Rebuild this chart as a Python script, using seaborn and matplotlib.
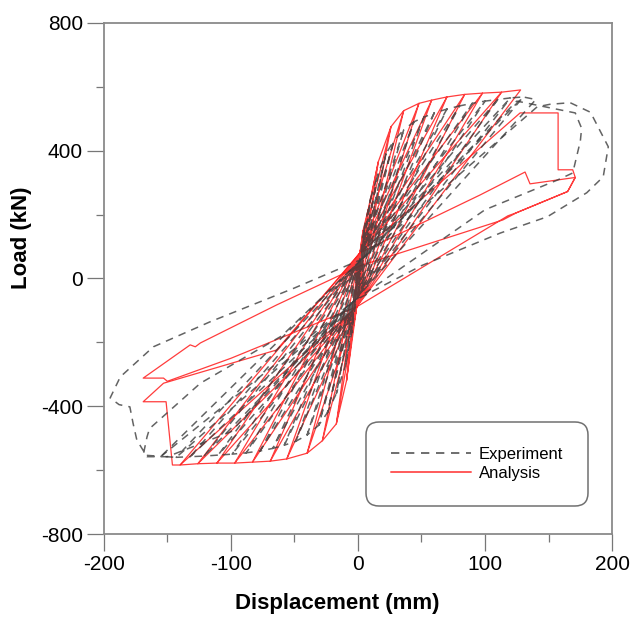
import pandas as pd
import matplotlib
matplotlib.use('Agg')
import matplotlib.pyplot as plt
from matplotlib.lines import Line2D
from matplotlib.ticker import MultipleLocator
import seaborn as sns

# --- analysis (red): peaks of every cycle ---
ana_pos_disp = [4, 8, 16, 26, 36, 48, 58, 70, 84, 98, 113, 128]
ana_pos_load = [150, 215, 365, 475, 525, 548, 558, 568, 576, 580, 583, 590]
ana_neg_disp = [-4, -9, -17, -28, -40, -56, -69, -83, -97, -111, -126, -140]
ana_neg_load = [-160, -320, -455, -508, -547, -565, -572, -575, -578, -578, -580, -584]
ana_pinch_disp = [1.6, -1.0]
ana_pinch_load = [80, -89]

# last (damaged) cycles of the analysis, traced point by point
ana_tail_disp = [1.6, 127.6, 157.5, 157.5, 169, 171, 165, 125, 118, 113, -1,
                 -140, -146, -151, -169, -153, -64, 1.6, 96, 131.5, 135.4, 171, 165, 125, 114, 2]
ana_tail_load = [80, 518, 518, 340, 340, 316, 272, 206, 196, 184, -89,
                 -584, -584, -386, -386, -328, -224, 80, 261, 333, 296, 316, 272, 206, 183, 40]
ana_tail2_disp = [2, -64, -124, -128, -132, -169, -153, -150, -100, -1]
ana_tail2_load = [40, -83, -202, -214, -208, -312, -312, -322, -250, -89]

# --- experiment (black dashed) ---
exp_pos_disp = [5, 10, 16, 22, 28, 36, 44, 52, 60, 70, 80, 90, 100, 110, 120, 130, 140]
exp_pos_load = [160, 250, 330, 390, 430, 465, 490, 505, 518, 530, 540, 548, 555, 560, 565, 568, 560]
exp_neg_disp = [-5, -10, -17, -24, -31, -40, -49, -58, -67, -77, -88, -99, -110, -121, -132, -143, -155]
exp_neg_load = [-170, -275, -360, -420, -460, -490, -510, -522, -532, -540, -546, -550, -553, -556, -558, -560, -557]
exp_pinch_disp = [3, -3]
exp_pinch_load = [60, -70]

exp_tail_disp = [3, 125, 171, 176, 175, 169, 157, 100, -3,
                 -155, -169, -166, -164, -124, -60, 3,
                 141, 151, 167, 183, 197, 193, 180, 149, 112, 50, -3,
                 -100, -150, -166, -174, -177, -179.5, -188, -195, -187, -161, -116.5, -50, 3]
exp_tail_load = [60, 555, 518, 470, 430, 330, 308, 215, -70,
                 -557, -553, -496, -470, -328, -180, 60,
                 537, 545, 550, 520, 412, 318, 268, 193, 142, 40, -70,
                 -480, -558, -558, -506, -453, -402, -395, -374, -308, -214, -136, -30, 60]


def build_cycles(pos_d, pos_f, neg_d, neg_f, pinch_d, pinch_f):
    # reload from pinch to previous peak, go on to new peak, unload to the other pinch
    d, f = [0.0], [0.0]
    for i in range(len(pos_d)):
        d.append(pinch_d[0]); f.append(pinch_f[0])
        if i > 0:
            d.append(pos_d[i - 1]); f.append(pos_f[i - 1])
        d.append(pos_d[i]); f.append(pos_f[i])
        d.append(pinch_d[1]); f.append(pinch_f[1])
        if i > 0:
            d.append(neg_d[i - 1]); f.append(neg_f[i - 1])
        d.append(neg_d[i]); f.append(neg_f[i])
    d.append(pinch_d[0]); f.append(pinch_f[0])
    return d, f


def to_frame(pieces):
    rows = []
    for unit, (d, f) in enumerate(pieces):
        for x, y in zip(d, f):
            rows.append({'disp': x, 'load': y, 'unit': unit})
    return pd.DataFrame(rows)


df_ana = to_frame([
    build_cycles(ana_pos_disp, ana_pos_load, ana_neg_disp, ana_neg_load, ana_pinch_disp, ana_pinch_load),
    (ana_tail_disp, ana_tail_load),
    (ana_tail2_disp, ana_tail2_load),
])
df_exp = to_frame([
    build_cycles(exp_pos_disp, exp_pos_load, exp_neg_disp, exp_neg_load, exp_pinch_disp, exp_pinch_load),
    (exp_tail_disp, exp_tail_load),
])

sns.set_style('ticks')
plt.rcParams['font.family'] = ['Liberation Sans', 'DejaVu Sans']
plt.rcParams['axes.unicode_minus'] = False

fig = plt.figure(figsize=(6.33, 6.17), dpi=100)
ax = fig.add_axes([0.164, 0.1345, 0.803, 0.8285])

red = '#ff1a1a'
dark = '#3c3c3c'
sns.lineplot(data=df_ana, x='disp', y='load', units='unit', estimator=None, sort=False,
             color=red, lw=0.9, alpha=0.85, legend=False, ax=ax)
sns.lineplot(data=df_exp, x='disp', y='load', units='unit', estimator=None, sort=False,
             color=dark, lw=1.1, alpha=0.8, linestyle=(0, (5, 4)), legend=False, ax=ax)

ax.set_xlim(-200, 200)
ax.set_ylim(-800, 800)
ax.xaxis.set_major_locator(MultipleLocator(100))
ax.xaxis.set_minor_locator(MultipleLocator(50))
ax.yaxis.set_major_locator(MultipleLocator(400))
ax.yaxis.set_minor_locator(MultipleLocator(200))
ax.tick_params(which='major', direction='out', length=12, width=0.9, color='#777777',
               labelsize=15, labelcolor='black', pad=3)
ax.tick_params(which='minor', direction='out', length=6, width=0.9, color='#777777')
for s in ax.spines.values():
    s.set_color('#8a8a8a')
    s.set_linewidth(1.3)

ax.set_xlabel('Displacement (mm)', fontsize=16, fontweight='bold', color='black')
ax.set_ylabel('Load (kN)', fontsize=16, fontweight='bold', color='black')
ax.xaxis.set_label_coords(0.459, -0.116)
ax.yaxis.set_label_coords(-0.142, 0.58)

handles = [Line2D([], [], color='#555555', lw=1.2, ls=(0, (5, 4))),
           Line2D([], [], color='#ff5a5a', lw=1.4)]
leg = ax.legend(handles, ['Experiment', 'Analysis'], loc='center',
                bbox_to_anchor=(0.734, 0.137), fontsize=12, frameon=True,
                borderpad=1.5, handlelength=4.8, handletextpad=0.5, labelspacing=0.25)
frame = leg.get_frame()
frame.set_edgecolor('#707070')
frame.set_linewidth(1.1)
frame.set_alpha(1)
frame.set_boxstyle('round,pad=0,rounding_size=0.8')
for t in leg.get_texts():
    t.set_color('black')

fig.savefig('out.png', dpi=100)
